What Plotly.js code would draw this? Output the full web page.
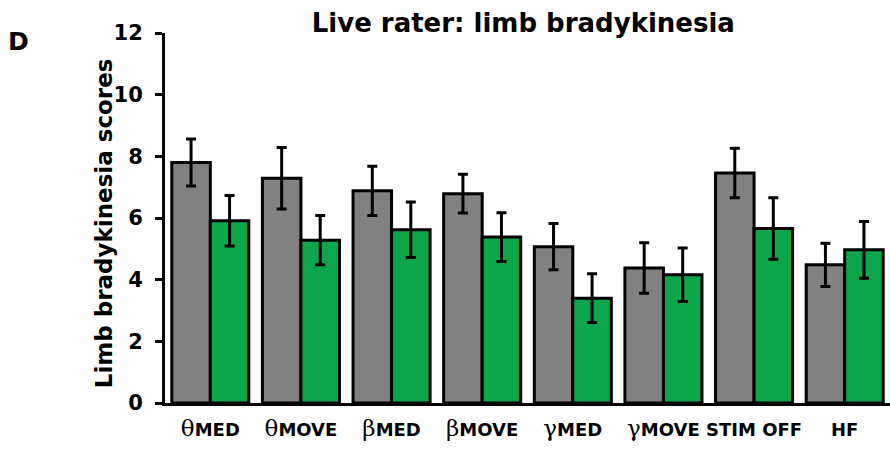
<!DOCTYPE html>
<html>
<head>
<meta charset="utf-8">
<script src="https://cdn.plot.ly/plotly-3.0.1.min.js"></script>
<style>
  html, body { margin: 0; padding: 0; background: #ffffff; }
  #chart { width: 890px; height: 449px; }
</style>
</head>
<body>
<div id="chart"></div>
<script>
// Condition labels (Greek prefix drawn in a serif face)
const greek = (ch) => '<span style="font-family:\'DejaVu Serif\', serif;font-size:23px;font-weight:normal">' + ch + '</span>';
const categories = [
  greek('θ') + 'MED',
  greek('θ') + 'MOVE',
  greek('β') + 'MED',
  greek('β') + 'MOVE',
  greek('γ') + 'MED',
  greek('γ') + 'MOVE',
  'STIM OFF',
  'HF'
];

// Mean scores and error magnitudes for the two conditions
const grayScores  = [7.80, 7.29, 6.88, 6.79, 5.07, 4.38, 7.46, 4.48];
const grayErrors  = [0.76, 1.00, 0.80, 0.63, 0.75, 0.82, 0.80, 0.70];
const greenScores = [5.91, 5.28, 5.62, 5.38, 3.40, 4.16, 5.66, 4.97];
const greenErrors = [0.82, 0.80, 0.90, 0.79, 0.79, 0.87, 1.00, 0.92];

const yTicks = [0, 2, 4, 6, 8, 10, 12];

const FONT = 'DejaVu Sans, Arial, sans-serif';

function barTrace(values, errors, color) {
  return {
    type: 'bar',
    x: categories,
    y: values,
    marker: { color: color, line: { color: '#000000', width: 3 } },
    error_y: {
      type: 'data',
      array: errors,
      visible: true,
      color: '#000000',
      thickness: 3,
      width: 5
    },
    hoverinfo: 'skip'
  };
}

const data = [
  barTrace(grayScores, grayErrors, '#818181'),
  barTrace(greenScores, greenErrors, '#0da64b')
];

const layout = {
  width: 890,
  height: 449,
  margin: { l: 165, r: 0, t: 33, b: 46, pad: 0 },
  paper_bgcolor: '#ffffff',
  plot_bgcolor: '#ffffff',
  showlegend: false,
  barmode: 'group',
  bargap: 0.15,
  bargroupgap: 0,
  font: { family: FONT, color: '#000000' },
  title: {
    text: '<b>Live rater: limb bradykinesia</b>',
    font: { family: FONT, size: 26, color: '#000000' },
    xref: 'container',
    x: 0.588,
    xanchor: 'center',
    yref: 'container',
    y: 0.948,
    yanchor: 'middle'
  },
  xaxis: {
    type: 'category',
    range: [-0.5, 7.5],
    showline: true,
    linecolor: '#000000',
    linewidth: 3,
    ticks: '',
    showgrid: false,
    zeroline: false,
    ticklabelstandoff: 8,
    tickfont: { family: FONT, size: 18, color: '#000000', weight: 'bold' },
    automargin: false
  },
  yaxis: {
    range: [0, 12],
    tickvals: yTicks,
    ticktext: yTicks.map(String),
    showline: true,
    linecolor: '#000000',
    linewidth: 3,
    ticks: 'outside',
    ticklen: 7,
    tickwidth: 3,
    tickcolor: '#000000',
    showgrid: false,
    zeroline: false,
    ticklabelstandoff: 8,
    tickfont: { family: FONT, size: 21, color: '#000000', weight: 'bold' },
    automargin: false
  },
  annotations: [
    {
      // y-axis title
      text: '<b>Limb bradykinesia scores</b>',
      xref: 'paper', yref: 'paper',
      x: -0.084, y: 0.486,
      xanchor: 'center', yanchor: 'middle',
      textangle: -90,
      showarrow: false,
      font: { family: FONT, size: 23, color: '#000000' }
    },
    {
      // panel letter
      text: '<b>D</b>',
      xref: 'paper', yref: 'paper',
      x: -0.219, y: 0.976,
      xanchor: 'left', yanchor: 'middle',
      showarrow: false,
      font: { family: FONT, size: 25, color: '#000000' }
    }
  ]
};

Plotly.newPlot('chart', data, layout, { displayModeBar: false, staticPlot: true });
</script>
</body>
</html>
